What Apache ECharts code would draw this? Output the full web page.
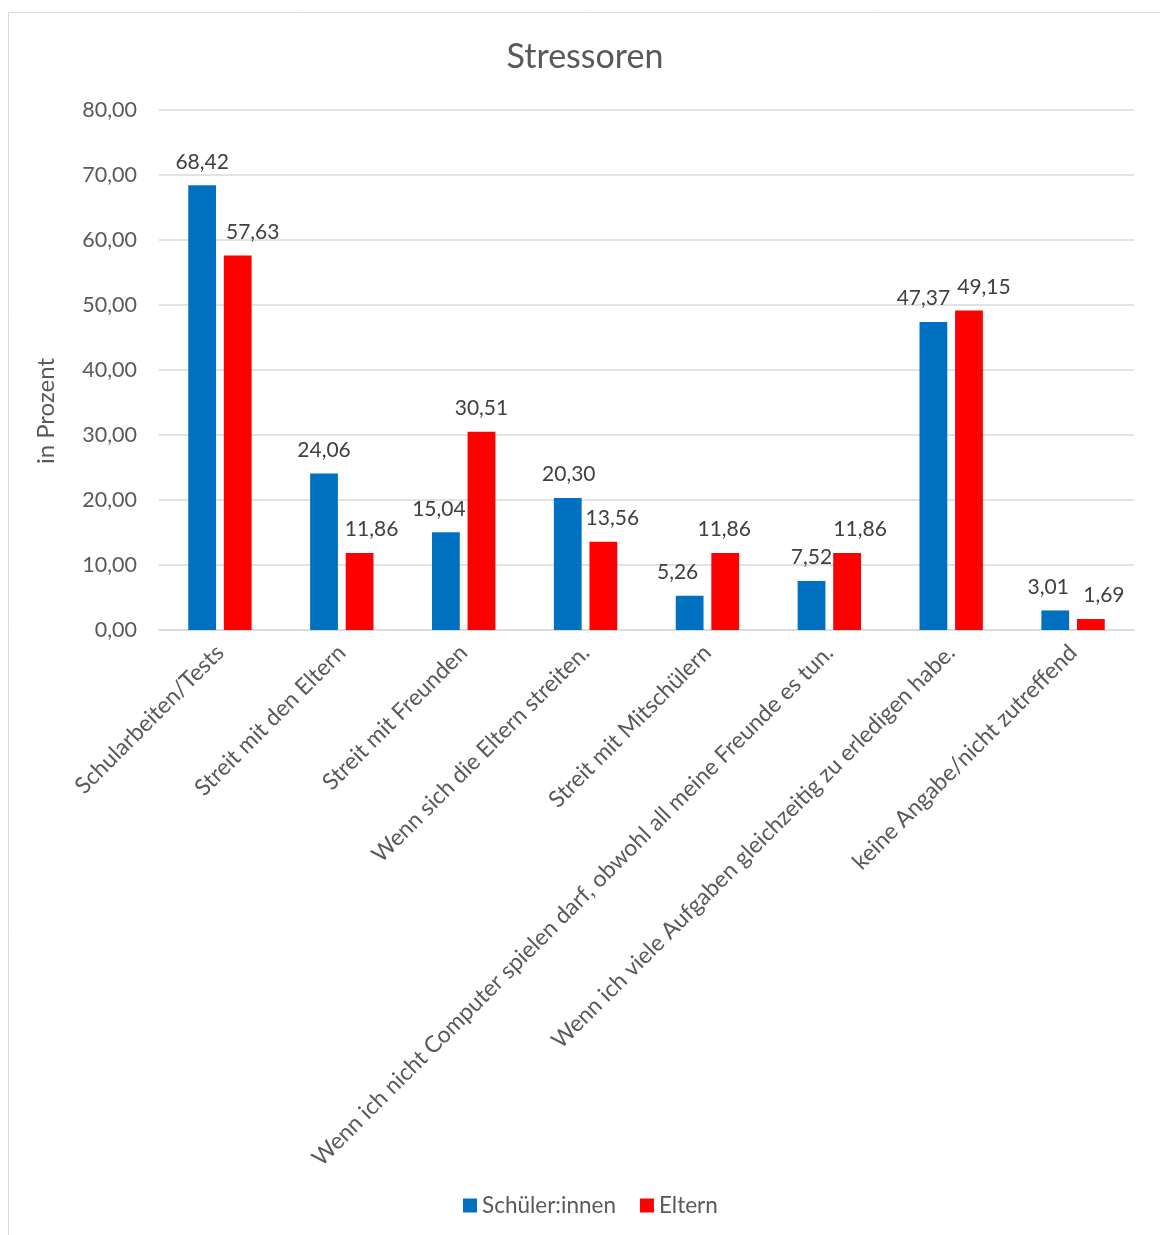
<!DOCTYPE html>
<html><head><meta charset="utf-8">
<script src="https://cdn.jsdelivr.net/npm/echarts@6/dist/echarts.min.js"></script>
<style>html,body{margin:0;padding:0;background:#fff}#c{width:1160px;height:1235px}</style>
</head><body><div id="c"></div>
<script>
const categories = ["Schularbeiten/Tests","Streit mit den Eltern","Streit mit Freunden","Wenn sich die Eltern streiten.","Streit mit Mitschülern","Wenn ich nicht Computer spielen darf, obwohl all meine Freunde es tun.","Wenn ich viele Aufgaben gleichzeitig zu erledigen habe.","keine Angabe/nicht zutreffend"];
const schueler = [68.42,24.06,15.04,20.30,5.26,7.52,47.37,3.01];
const eltern = [57.63,11.86,30.51,13.56,11.86,11.86,49.15,1.69];
// horizontal label shifts (px) to avoid overlapping, as in the original
const shiftSchueler = [0, 0, -7, 1, -12, 0, -10, -7];
const shiftEltern = [15, 12, 0, 9, -1, 13, 15, 13];
const fmt = v => v.toFixed(2).replace('.', ',');
const FONT = 'Lato';
const chart = echarts.init(document.getElementById('c'));
const lbl = {show:true, position:'top', distance:13, color:'#404040', fontFamily:FONT, fontSize:21, formatter:p=>fmt(p.value)};
const build = (vals, shifts) => vals.map((v,i)=>({value:v, label:{offset:[shifts[i],0]}}));
chart.setOption({
  animation:false,
  textStyle:{fontFamily:FONT},
  title:{text:'Stressoren', left:580, top:35, textAlign:'center', textStyle:{fontFamily:FONT, fontSize:34, fontWeight:'normal', color:'#595959'}},
  graphic:[
    {type:'rect', shape:{x:8.5,y:12.5,width:1170,height:1240}, style:{fill:'none', stroke:'#d9d9d9', lineWidth:1}, silent:true},
    {type:'text', x:46, y:411, rotation:Math.PI/2, style:{text:'in Prozent', fontFamily:FONT, fontSize:24, fill:'#595959', textAlign:'center', textVerticalAlign:'middle'}}
  ],
  legend:{bottom:13, left:458, itemWidth:14, itemHeight:14, itemGap:24, icon:'rect', textStyle:{fontFamily:FONT, fontSize:22.5, color:'#595959'}, data:['Schüler:innen','Eltern']},
  grid:{left:159, right:26, top:110, bottom:605, containLabel:false},
  xAxis:{type:'category', data:categories, axisTick:{show:false}, axisLine:{lineStyle:{color:'#d9d9d9', width:1.5}},
    axisLabel:{interval:0, rotate:45, color:'#595959', fontFamily:FONT, fontSize:23, margin:19}},
  yAxis:{type:'value', min:0, max:80, interval:10, axisLine:{show:false}, axisTick:{show:false},
    splitLine:{lineStyle:{color:'#d9d9d9', width:1.5}},
    axisLabel:{formatter:v=>fmt(v), color:'#595959', fontFamily:FONT, fontSize:21.5, margin:22}},
  series:[
    {name:'Schüler:innen', type:'bar', data:build(schueler, shiftSchueler), itemStyle:{color:'#0070C0'}, barGap:'28%', barCategoryGap:'48%', label:lbl},
    {name:'Eltern', type:'bar', data:build(eltern, shiftEltern), itemStyle:{color:'#FF0000'}, barGap:'28%', barCategoryGap:'48%', label:lbl}
  ]
});
</script></body></html>
